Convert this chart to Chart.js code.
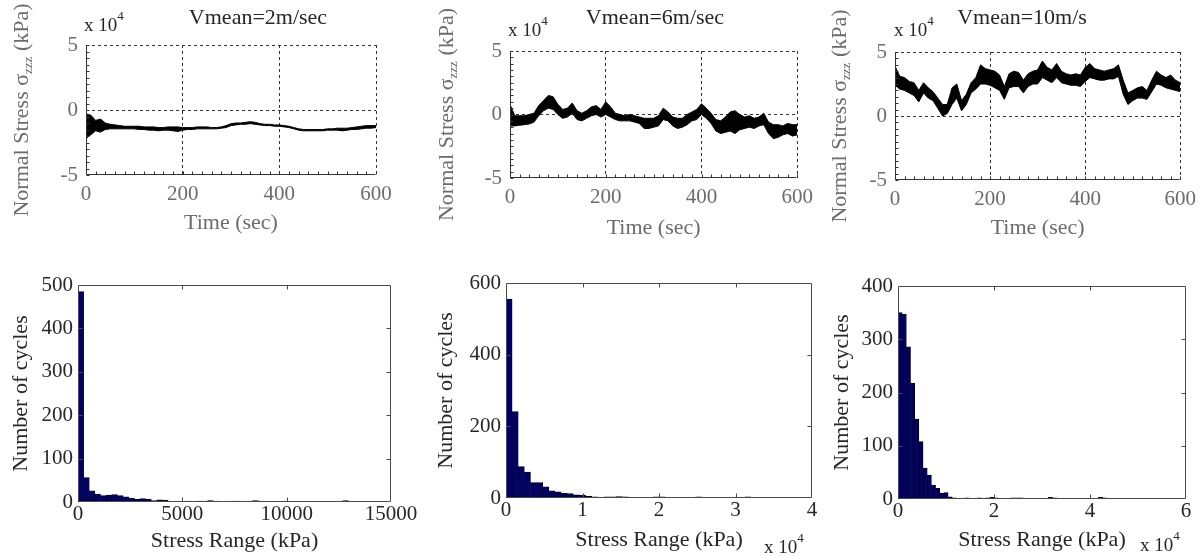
<!DOCTYPE html>
<html>
<head>
<meta charset="utf-8">
<script src="https://cdn.jsdelivr.net/npm/chart.js@4.4.1/dist/chart.umd.min.js"></script>
<style>
  body { margin: 0; background: #fff; }
  #wrap { position: relative; width: 1203px; height: 557px; overflow: hidden; background: #fff; }
  canvas { position: absolute; }
</style>
</head>
<body>
<div id="wrap">
  <canvas id="tl"></canvas>
  <canvas id="tm"></canvas>
  <canvas id="tr"></canvas>
  <canvas id="bl"></canvas>
  <canvas id="bm"></canvas>
  <canvas id="br"></canvas>
</div>
<script>
// sample times (s) for the stress traces
const timeSec = [0, 10, 20, 30, 40, 50, 60, 70, 80, 90,
  100, 110, 120, 130, 140, 150, 160, 170, 180, 190,
  200, 210, 220, 230, 240, 250, 260, 270, 280, 290,
  300, 310, 320, 330, 340, 350, 360, 370, 380, 390,
  400, 410, 420, 430, 440, 450, 460, 470, 480, 490,
  500, 510, 520, 530, 540, 550, 560, 570, 580, 590, 600];

// upper / lower edge of the noisy trace, in units of 1e4 kPa
const v2Hi = [-0.3, -0.4, -0.8, -0.7, -1.0, -1.1, -1.15, -1.2, -1.25, -1.25,
  -1.25, -1.25, -1.3, -1.3, -1.3, -1.35, -1.35, -1.3, -1.3, -1.3,
  -1.35, -1.35, -1.35, -1.3, -1.3, -1.3, -1.35, -1.35, -1.3, -1.2,
  -1.05, -1.0, -1.0, -0.95, -0.9, -0.95, -1.05, -1.1, -1.1, -1.15,
  -1.15, -1.2, -1.25, -1.35, -1.45, -1.5, -1.5, -1.5, -1.5, -1.5,
  -1.45, -1.45, -1.4, -1.4, -1.4, -1.35, -1.3, -1.25, -1.2, -1.2, -1.2];
const v2Lo = [-2.2, -1.9, -1.6, -1.7, -1.5, -1.45, -1.45, -1.45, -1.45, -1.45,
  -1.45, -1.5, -1.5, -1.55, -1.55, -1.6, -1.55, -1.55, -1.6, -1.65,
  -1.55, -1.5, -1.5, -1.45, -1.45, -1.45, -1.45, -1.45, -1.4, -1.35,
  -1.2, -1.15, -1.1, -1.1, -1.05, -1.1, -1.15, -1.2, -1.2, -1.25,
  -1.25, -1.3, -1.35, -1.45, -1.55, -1.6, -1.6, -1.6, -1.6, -1.6,
  -1.55, -1.55, -1.55, -1.6, -1.55, -1.5, -1.5, -1.45, -1.4, -1.4, -1.35];

const v6Hi = [0.8, -0.1, -0.1, -0.1, 0.0, 0.1, 0.7, 1.1, 1.5, 1.4,
  0.8, 0.4, 0.5, 0.9, 0.3, 0.1, 0.3, 0.6, 0.7, 0.4,
  1.0, 0.6, 0.1, 0.0, -0.1, 0.0, -0.1, -0.2, -0.3, -0.3,
  -0.3, -0.1, 0.5, 0.2, -0.2, -0.3, -0.3, 0.0, 0.2, 0.4,
  0.85, 0.5, 0.1, -0.4, -0.5, -0.2, 0.2, 0.3, 0.0, -0.2,
  -0.1, -0.3, -0.2, 0.1, -0.6, -0.8, -0.8, -0.9, -0.7, -0.8, -0.8];
const v6Lo = [-0.9, -0.9, -0.85, -0.8, -0.75, -0.6, -0.1, 0.3, 0.5, 0.4,
  0.0, -0.3, -0.2, 0.1, -0.4, -0.5, -0.3, -0.1, 0.0, -0.2,
  0.0, -0.2, -0.4, -0.5, -0.5, -0.5, -0.6, -0.7, -1.1, -1.1,
  -1.0, -0.9, -0.4, -0.5, -0.9, -1.1, -1.0, -0.8, -0.5, -0.4,
  0.0, -0.3, -0.7, -1.3, -1.5, -1.4, -1.3, -1.5, -1.2, -1.1,
  -1.0, -1.1, -0.9, -0.8, -1.5, -1.9, -1.8, -1.6, -1.5, -1.7, -1.6];

const v10Hi = [3.9, 3.1, 3.0, 2.7, 2.6, 2.0, 2.6, 2.2, 1.9, 1.4,
  0.9, 0.9, 2.2, 2.5, 1.2, 1.7, 2.6, 3.0, 4.0, 3.7,
  3.6, 3.5, 3.2, 2.3, 3.3, 3.5, 3.4, 2.8, 3.3, 3.5,
  3.6, 4.3, 3.8, 3.6, 4.1, 3.5, 3.3, 3.2, 3.3, 3.2,
  3.8, 4.1, 3.7, 3.6, 3.5, 3.6, 3.7, 4.0, 2.8, 1.8,
  2.0, 2.2, 2.3, 2.0, 2.8, 3.5, 3.2, 3.0, 3.2, 2.8, 2.6];
const v10Lo = [2.4, 2.1, 2.0, 1.8, 1.6, 1.1, 1.8, 1.4, 1.2, 0.6,
  0.0, 0.2, 0.9, 1.4, 0.4, 0.9, 1.8, 2.1, 2.5, 2.5,
  2.4, 2.2, 2.0, 1.3, 2.2, 2.3, 2.3, 1.8, 2.3, 2.5,
  2.5, 3.0, 2.8, 2.6, 3.0, 2.6, 2.5, 2.4, 2.4, 2.3,
  2.7, 3.0, 2.9, 2.8, 2.8, 2.9, 2.9, 3.1, 1.7, 0.9,
  1.2, 1.4, 1.4, 1.3, 1.9, 2.5, 2.4, 2.2, 2.1, 2.0, 1.9];

// rainflow histograms: bin width (kPa) and number of cycles per bin
const bin2 = 270;
const cycles2 = [485, 56, 26, 18, 15, 16, 17, 15, 12, 9,
  6, 8, 6, 3, 5, 4, 1, 0, 0, 2,
  0, 2, 2, 3, 2, 0, 0, 2, 2, 0,
  2, 3, 2, 0, 0, 0, 0, 0, 0, 0,
  0, 0, 0, 0, 0, 0, 0, 3, 0];
const bin6 = 800;
const cycles6 = [555, 241, 88, 72, 43, 43, 31, 20, 17, 13,
  12, 9, 8, 5, 3, 2, 3, 3, 4, 3,
  0, 2, 0, 2, 3, 3, 0, 0, 0, 0,
  0, 3, 0, 0, 0, 0, 0, 0, 0, 3];
const bin10 = 870;
const cycles10 = [350, 347, 286, 217, 150, 108, 58, 45, 26, 20,
  11, 12, 4, 2, 1, 1, 2, 1, 1, 2,
  1, 2, 3, 2, 0, 0, 0, 2, 2, 2,
  0, 0, 0, 0, 0, 0, 3, 2, 0, 0,
  0, 0, 0, 0, 0, 0, 0, 0, 3, 2];

const serif = "'Liberation Serif', 'Times New Roman', Times, serif";
const grayText = '#6c6c6c';
const darkText = '#262626';
const tickSize = 21;
const titleSize = 22;

// draws the axes box, inward ticks and free text (titles, x 10^4, sigma label)
function richText(ctx, t, origin) {
  let w = 0;
  t.parts.forEach(p => {
    ctx.font = `${p.size}px ${serif}`;
    p.w = ctx.measureText(p.s).width;
    w += p.w;
  });
  ctx.save();
  ctx.translate(t.x - origin[0], t.y - origin[1]);
  if (t.rot) ctx.rotate(t.rot * Math.PI / 180);
  let cx = t.align === 'left' ? 0 : -w / 2;
  ctx.fillStyle = t.color;
  ctx.textBaseline = 'middle';
  ctx.textAlign = 'left';
  t.parts.forEach(p => {
    ctx.font = `${p.size}px ${serif}`;
    ctx.fillText(p.s, cx, p.dy || 0);
    cx += p.w;
  });
  ctx.restore();
}

const framePlugin = {
  id: 'frame',
  afterDraw(chart, args, o) {
    const { ctx, chartArea: a, scales } = chart;
    const L = Math.round(a.left) + 0.5, R = Math.round(a.right) - 0.5;
    const T = Math.round(a.top) + 0.5, B = Math.round(a.bottom) - 0.5;
    ctx.save();
    ctx.lineWidth = 1;
    ctx.strokeStyle = o.color;
    ctx.setLineDash([]);
    ctx.beginPath();
    ctx.moveTo(L, T); ctx.lineTo(L, B); ctx.lineTo(R, B);
    if (o.box) { ctx.lineTo(R, T); ctx.lineTo(L, T); }
    o.xTicks.forEach(v => {
      const p = Math.round(scales.x.getPixelForValue(v)) + 0.5;
      ctx.moveTo(p, B); ctx.lineTo(p, B - o.len);
      if (o.box) { ctx.moveTo(p, T); ctx.lineTo(p, T + o.len); }
    });
    o.yTicks.forEach(v => {
      const p = Math.round(scales.y.getPixelForValue(v)) + 0.5;
      ctx.moveTo(L, p); ctx.lineTo(L + o.len, p);
      if (o.box) { ctx.moveTo(R, p); ctx.lineTo(R - o.len, p); }
    });
    ctx.stroke();
    (o.texts || []).forEach(t => richText(ctx, t, o.origin));
    ctx.restore();
  }
};

function place(id, box) {
  const c = document.getElementById(id);
  c.width = box[2];
  c.height = box[3];
  c.style.left = box[0] + 'px';
  c.style.top = box[1] + 'px';
  return c;
}

function steps(from, to, step) {
  const out = [];
  for (let v = from; v <= to + 1e-9; v += step) out.push(+v.toFixed(6));
  return out;
}

function mult(x, y) {
  return { x, y, align: 'left', color: darkText,
    parts: [{ s: 'x 10', size: 19 }, { s: '4', size: 13, dy: -9 }] };
}

function stressChart(id, box, area, hi, lo, spec) {
  const c = place(id, box);
  const lh = titleSize * 1.2;
  new Chart(c, {
    type: 'line',
    data: {
      datasets: [
        { data: timeSec.map((t, i) => ({ x: t, y: hi[i] })), borderColor: '#000', borderWidth: 1, pointRadius: 0, fill: false },
        { data: timeSec.map((t, i) => ({ x: t, y: lo[i] })), borderColor: '#000', borderWidth: 1, pointRadius: 0, fill: '-1', backgroundColor: '#000' }
      ]
    },
    options: {
      responsive: false,
      animation: false,
      events: [],
      layout: { padding: { left: 0, top: area[1] - box[1], right: box[0] + box[2] - area[2], bottom: 0 } },
      plugins: {
        legend: { display: false },
        tooltip: { enabled: false },
        frame: {
          color: '#333', box: false, len: 3, origin: [box[0], box[1]],
          xTicks: steps(0, 600, 20), yTicks: steps(-5, 5, 0.5),
          texts: [
            { x: spec.titleX, y: 18, color: darkText, parts: [{ s: spec.title, size: 22 }] },
            mult(spec.multX, spec.multY),
            { x: spec.sigmaX, y: (area[1] + area[3]) / 2, rot: -90, color: grayText,
              parts: [{ s: 'Normal Stress σ', size: 22 }, { s: 'zzz', size: 13, dy: 7 }, { s: ' (kPa)', size: 22 }] }
          ]
        }
      },
      scales: {
        x: {
          type: 'linear', min: 0, max: 600,
          afterFit: s => { s.height = box[1] + box[3] - area[3]; },
          ticks: { stepSize: 200, padding: 7, color: grayText, maxRotation: 0, font: { family: serif, size: tickSize } },
          grid: { drawTicks: false, lineWidth: 1, color: ctx => ctx.tick && ctx.tick.value > 0 ? '#333' : 'rgba(0,0,0,0)' },
          border: { display: false, dash: [3, 3] },
          title: { display: true, text: 'Time (sec)', color: grayText, font: { family: serif, size: titleSize },
            padding: { top: 0, bottom: box[1] + box[3] - lh / 2 - spec.xTitleY } }
        },
        y: {
          min: -5, max: 5,
          afterFit: s => { s.width = area[0] - box[0]; },
          ticks: { stepSize: 5, padding: 8, color: grayText, font: { family: serif, size: tickSize } },
          grid: { drawTicks: false, lineWidth: 1, color: ctx => ctx.tick && ctx.tick.value > -5 ? '#333' : 'rgba(0,0,0,0)' },
          border: { display: false, dash: [3, 3] }
        }
      }
    },
    plugins: [framePlugin]
  });
}

function histChart(id, box, area, width, counts, spec) {
  const c = place(id, box);
  const lh = titleSize * 1.2;
  const texts = spec.mult ? [mult(spec.mult[0], spec.mult[1])] : [];
  new Chart(c, {
    type: 'bar',
    data: {
      datasets: [{
        data: counts.map((n, i) => ({ x: i * width + width / 2, y: n })),
        backgroundColor: '#00006f', borderColor: '#000', borderWidth: 0.8,
        borderSkipped: 'start', barPercentage: 1, categoryPercentage: 1
      }]
    },
    options: {
      responsive: false,
      animation: false,
      events: [],
      layout: { padding: { left: 0, top: area[1] - box[1], right: box[0] + box[2] - area[2], bottom: 0 } },
      plugins: {
        legend: { display: false },
        tooltip: { enabled: false },
        frame: { color: '#4a4a4a', box: true, len: 4, origin: [box[0], box[1]],
          xTicks: spec.xTicks, yTicks: spec.yTicks, texts }
      },
      scales: {
        x: {
          type: 'linear', min: 0, max: spec.xMax, offset: false,
          afterFit: s => { s.height = box[1] + box[3] - area[3]; },
          ticks: { stepSize: spec.xStep, padding: 0, color: darkText, maxRotation: 0, autoSkip: false,
            font: { family: serif, size: tickSize }, callback: v => String(v / spec.xDiv) },
          grid: { display: false, offset: false, drawTicks: false },
          border: { display: false },
          title: { display: true, text: 'Stress Range (kPa)', color: darkText, font: { family: serif, size: titleSize },
            padding: { top: 0, bottom: box[1] + box[3] - lh / 2 - spec.xTitleY } }
        },
        y: {
          min: 0, max: spec.yMax,
          afterFit: s => { s.width = area[0] - box[0]; },
          ticks: { stepSize: spec.yStep, padding: 5, color: darkText, font: { family: serif, size: tickSize } },
          grid: { display: false, drawTicks: false },
          border: { display: false },
          title: { display: true, text: 'Number of cycles', color: darkText, font: { family: serif, size: titleSize },
            padding: { top: spec.yTitleX - box[0] - lh / 2, bottom: 0 } }
        }
      }
    },
    plugins: [framePlugin]
  });
}

stressChart('tl', [0, 0, 414, 240], [86, 45, 376, 175], v2Hi, v2Lo,
  { title: 'Vmean=2m/sec', titleX: 258, multX: 84, multY: 26, sigmaX: 22, xTitleY: 223 });
stressChart('tm', [420, 0, 400, 240], [510, 51, 798, 178], v6Hi, v6Lo,
  { title: 'Vmean=6m/sec', titleX: 655, multX: 508, multY: 31, sigmaX: 447, xTitleY: 228 });
stressChart('tr', [815, 0, 388, 240], [895, 52, 1184, 180], v10Hi, v10Lo,
  { title: 'Vmean=10m/s', titleX: 1022, multX: 894, multY: 31, sigmaX: 840, xTitleY: 228 });

histChart('bl', [0, 265, 420, 292], [78, 285, 391, 502], bin2, cycles2,
  { xMax: 15000, xStep: 5000, xDiv: 1, yMax: 500, yStep: 100, xTitleY: 541, yTitleX: 21,
    xTicks: [5000, 10000], yTicks: [100, 200, 300, 400] });
histChart('bm', [420, 265, 400, 292], [506, 283, 812, 498], bin6, cycles6,
  { xMax: 40000, xStep: 10000, xDiv: 10000, yMax: 600, yStep: 200, xTitleY: 540, yTitleX: 446,
    xTicks: [10000, 20000, 30000], yTicks: [200, 400], mult: [764, 548] });
histChart('br', [820, 265, 383, 292], [898, 286, 1186, 499], bin10, cycles10,
  { xMax: 60000, xStep: 20000, xDiv: 10000, yMax: 400, yStep: 100, xTitleY: 540, yTitleX: 842,
    xTicks: [20000, 40000], yTicks: [100, 200, 300], mult: [1140, 546] });
</script>
</body>
</html>
